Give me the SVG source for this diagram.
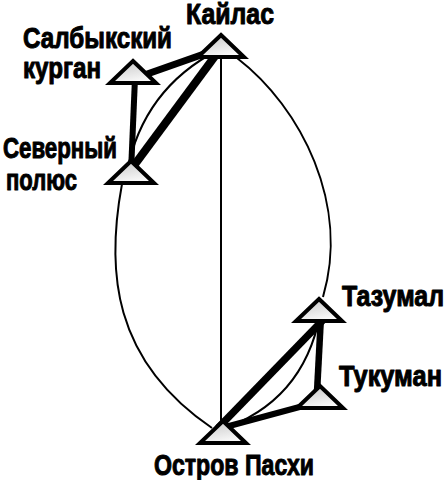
<svg xmlns="http://www.w3.org/2000/svg" xmlns:xlink="http://www.w3.org/1999/xlink" width="447" height="480" viewBox="0 0 447 480">
<style>
.thin{fill:none;stroke:#000;stroke-width:2}
.thick{fill:none;stroke:#000;stroke-linecap:butt}
.lbl{font-family:"Liberation Sans Narrow","Liberation Sans",sans-serif;font-weight:bold;font-size:29px;fill:#000;stroke:#000;stroke-width:1;stroke-linejoin:round}
.tri{fill:url(#g);stroke:#000;stroke-width:4;stroke-linejoin:miter}
</style>
<defs>
<linearGradient id="g" x1="0" y1="0" x2="0.4" y2="1">
<stop offset="0" stop-color="#c4c4c4"/>
<stop offset="1" stop-color="#f8f8f8"/>
</linearGradient>
<path id="t" class="tri" d="M0,0 L23,22 L-23,22 Z"/>
</defs>
<rect width="447" height="480" fill="#fff"/>
<g id="connectors">
<line class="thin" x1="221" y1="45" x2="221" y2="430"/>
<path class="thin" d="M237,58 C302,108 350,205 323,297"/>
<path class="thin" d="M122,184 C106,270 112,360 212,428"/>
<path class="thin" d="M218,50 Q143,89 127,172"/>
<path class="thin" d="M320,315 Q303,402 220,430"/>
<line class="thick" x1="221" y1="48" x2="133" y2="79" stroke-width="7"/>
<line class="thick" x1="135" y1="78" x2="131" y2="172" stroke-width="6"/>
<line class="thick" x1="221" y1="48" x2="127" y2="175" stroke-width="8"/>
<line class="thick" x1="323" y1="320" x2="218" y2="428" stroke-width="7.5"/>
<line class="thick" x1="321" y1="316" x2="317" y2="392" stroke-width="6.5"/>
<line class="thick" x1="318" y1="402" x2="218" y2="429" stroke-width="6"/>
</g>
<g id="kailas"><use xlink:href="#t" x="221" y="35"/><text class="lbl" x="186" y="24" textLength="88" lengthAdjust="spacingAndGlyphs">Кайлас</text></g>
<g id="salbyk"><use xlink:href="#t" x="133" y="61"/><text class="lbl" x="23" y="48" textLength="149" lengthAdjust="spacingAndGlyphs">Салбыкский</text><text class="lbl" x="23" y="78" textLength="78" lengthAdjust="spacingAndGlyphs">курган</text></g>
<g id="north"><use xlink:href="#t" x="131" y="161"/><text class="lbl" x="3" y="158" textLength="114" lengthAdjust="spacingAndGlyphs">Северный</text><text class="lbl" x="6" y="190" textLength="71" lengthAdjust="spacingAndGlyphs">полюс</text></g>
<g id="tazumal"><use xlink:href="#t" x="319" y="299"/><text class="lbl" x="342" y="306" textLength="102" lengthAdjust="spacingAndGlyphs">Тазумал</text></g>
<g id="tukuman"><use xlink:href="#t" x="320" y="386"/><text class="lbl" x="339" y="386" textLength="103" lengthAdjust="spacingAndGlyphs">Тукуман</text></g>
<g id="easter"><use xlink:href="#t" x="223" y="421"/><text class="lbl" x="154" y="475" textLength="160" lengthAdjust="spacingAndGlyphs">Остров Пасхи</text></g>
</svg>
